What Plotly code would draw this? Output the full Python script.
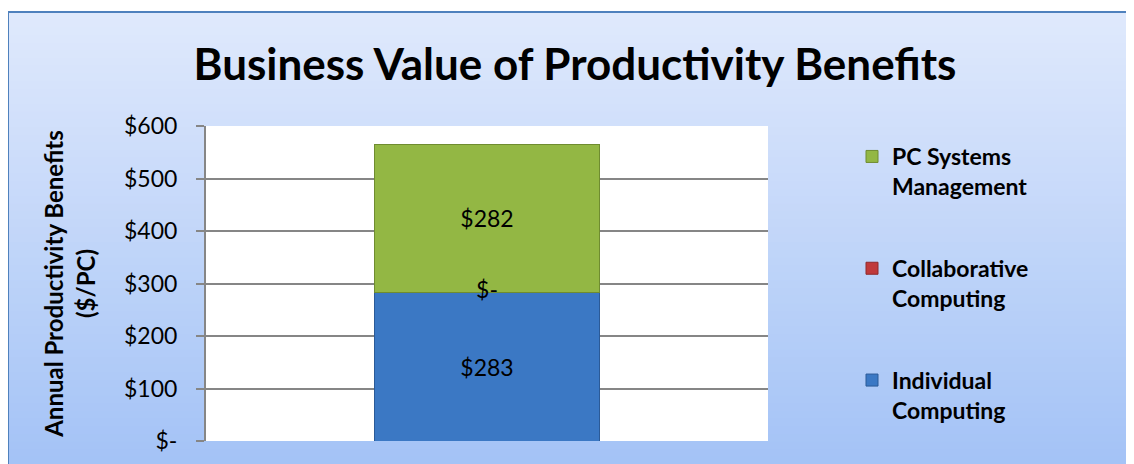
import plotly.graph_objects as go

# data
category = ["Total"]
series_names = ["Individual<br>Computing", "Collaborative<br>Computing", "PC Systems<br>Management"]
series_values = [[283], [0], [282]]
series_colors = ["#3b78c4", "#c0393b", "#93b744"]
series_edges = ["#2b5a97", "#8f2a2c", "#6f8c30"]
tick_vals = [0, 100, 200, 300, 400, 500, 600]
tick_labels = ["$-", "$100", "$200", "$300", "$400", "$500", "$600"]

W, H = 1134, 464
OFF = 8  # page body margin shifts the figure by 8px
# plot area in screenshot pixels
PX0, PX1, PY0, PY1 = 206, 768, 126, 441
ML, MR = PX0 - OFF, W - (PX1 - OFF)
MT, MB = PY0 - OFF, H - (PY1 - OFF)
PW, PH = W - ML - MR, H - MT - MB

FONT = "Lato"


def px_x(p):
    # screenshot x pixel -> paper coordinate
    return (p - OFF - ML) / PW


def px_y(p):
    # screenshot y pixel -> paper coordinate
    return (H - MB - (p - OFF)) / PH


fig = go.Figure()

for i, (name, vals) in enumerate(zip(series_names, series_values)):
    fig.add_trace(go.Bar(
        x=category,
        y=vals,
        name=name,
        legendgroup=str(i),
        legendrank=10 * (len(series_names) - i),
        marker=dict(color=series_colors[i], line=dict(color=series_edges[i], width=1)),
        text=[f"${v}" if v else "" for v in vals],
        textposition="inside" if vals[0] else "none",
        insidetextanchor="middle",
        textfont=dict(family=FONT, size=23, color="black"),
        hoverinfo="skip",
    ))

# label for the zero-height middle segment, placed at the top of the first segment
fig.add_trace(go.Scatter(
    x=category,
    y=[series_values[0][0] + series_values[1][0]],
    mode="text",
    text=["$-" if series_values[1][0] == 0 else f"${series_values[1][0]}"],
    textfont=dict(family=FONT, size=23, color="black"),
    showlegend=False,
    hoverinfo="skip",
))

# background gradient + border
top_c = (223, 233, 252)
bot_c = (163, 194, 246)
bands = 60
y_top, y_bot = 12, H + OFF
shapes = []
for k in range(bands):
    t = k / (bands - 1)
    c = tuple(round(top_c[j] + (bot_c[j] - top_c[j]) * t) for j in range(3))
    p0 = y_top + (y_bot - y_top) * k / bands
    p1 = y_top + (y_bot - y_top) * (k + 1) / bands + 1
    shapes.append(dict(type="rect", xref="paper", yref="paper", layer="below",
                       x0=px_x(8), x1=px_x(W + OFF), y0=px_y(p1), y1=px_y(p0),
                       fillcolor="rgb(%d,%d,%d)" % c, line=dict(width=0)))
shapes.append(dict(type="rect", xref="paper", yref="paper", layer="below",
                   x0=0, x1=1, y0=0, y1=1, fillcolor="white", line=dict(width=0)))
shapes.append(dict(type="line", xref="paper", yref="paper",
                   x0=px_x(8), x1=px_x(W + OFF), y0=px_y(12), y1=px_y(12),
                   line=dict(color="#4f81bd", width=2)))
shapes.append(dict(type="line", xref="paper", yref="paper",
                   x0=px_x(8), x1=px_x(8), y0=px_y(12), y1=px_y(H + OFF),
                   line=dict(color="#4f81bd", width=2)))

fig.update_layout(
    width=W, height=H,
    margin=dict(l=ML, r=MR, t=MT, b=MB),
    paper_bgcolor="white",
    plot_bgcolor="white",
    barmode="stack",
    bargap=0.6,
    shapes=shapes,
    title=dict(text="<b>Business Value of Productivity Benefits</b>",
               x=px_x(575), xref="paper", xanchor="center",
               y=1 - (65 - OFF) / H, yanchor="middle",
               font=dict(family=FONT, size=44, color="black")),
    font=dict(family=FONT, color="black"),
    xaxis=dict(showticklabels=False, showgrid=False, zeroline=False, showline=False),
    yaxis=dict(
        range=[0, 600],
        tickvals=tick_vals,
        ticktext=tick_labels,
        tickfont=dict(family=FONT, size=23, color="black"),
        ticks="outside", ticklen=8, tickcolor="#868686", tickwidth=2,
        ticklabelstandoff=14,
        showgrid=True, gridcolor="#868686", gridwidth=2,
        showline=True, linecolor="#868686", linewidth=2,
        zeroline=False,
        title=dict(text="<b>Annual Productivity Benefits<br>($/PC)</b>",
                   font=dict(family=FONT, size=24, color="black"), standoff=22),
    ),
    legend=dict(
        x=px_x(852), xanchor="left",
        y=px_y(135), yanchor="top",
        traceorder="grouped",
        tracegroupgap=49,
        valign="top",
        bgcolor="rgba(0,0,0,0)",
        font=dict(family=FONT, size=23, color="black", weight="bold"),
        itemwidth=30,
    ),
)

fig.write_html("out.html")
